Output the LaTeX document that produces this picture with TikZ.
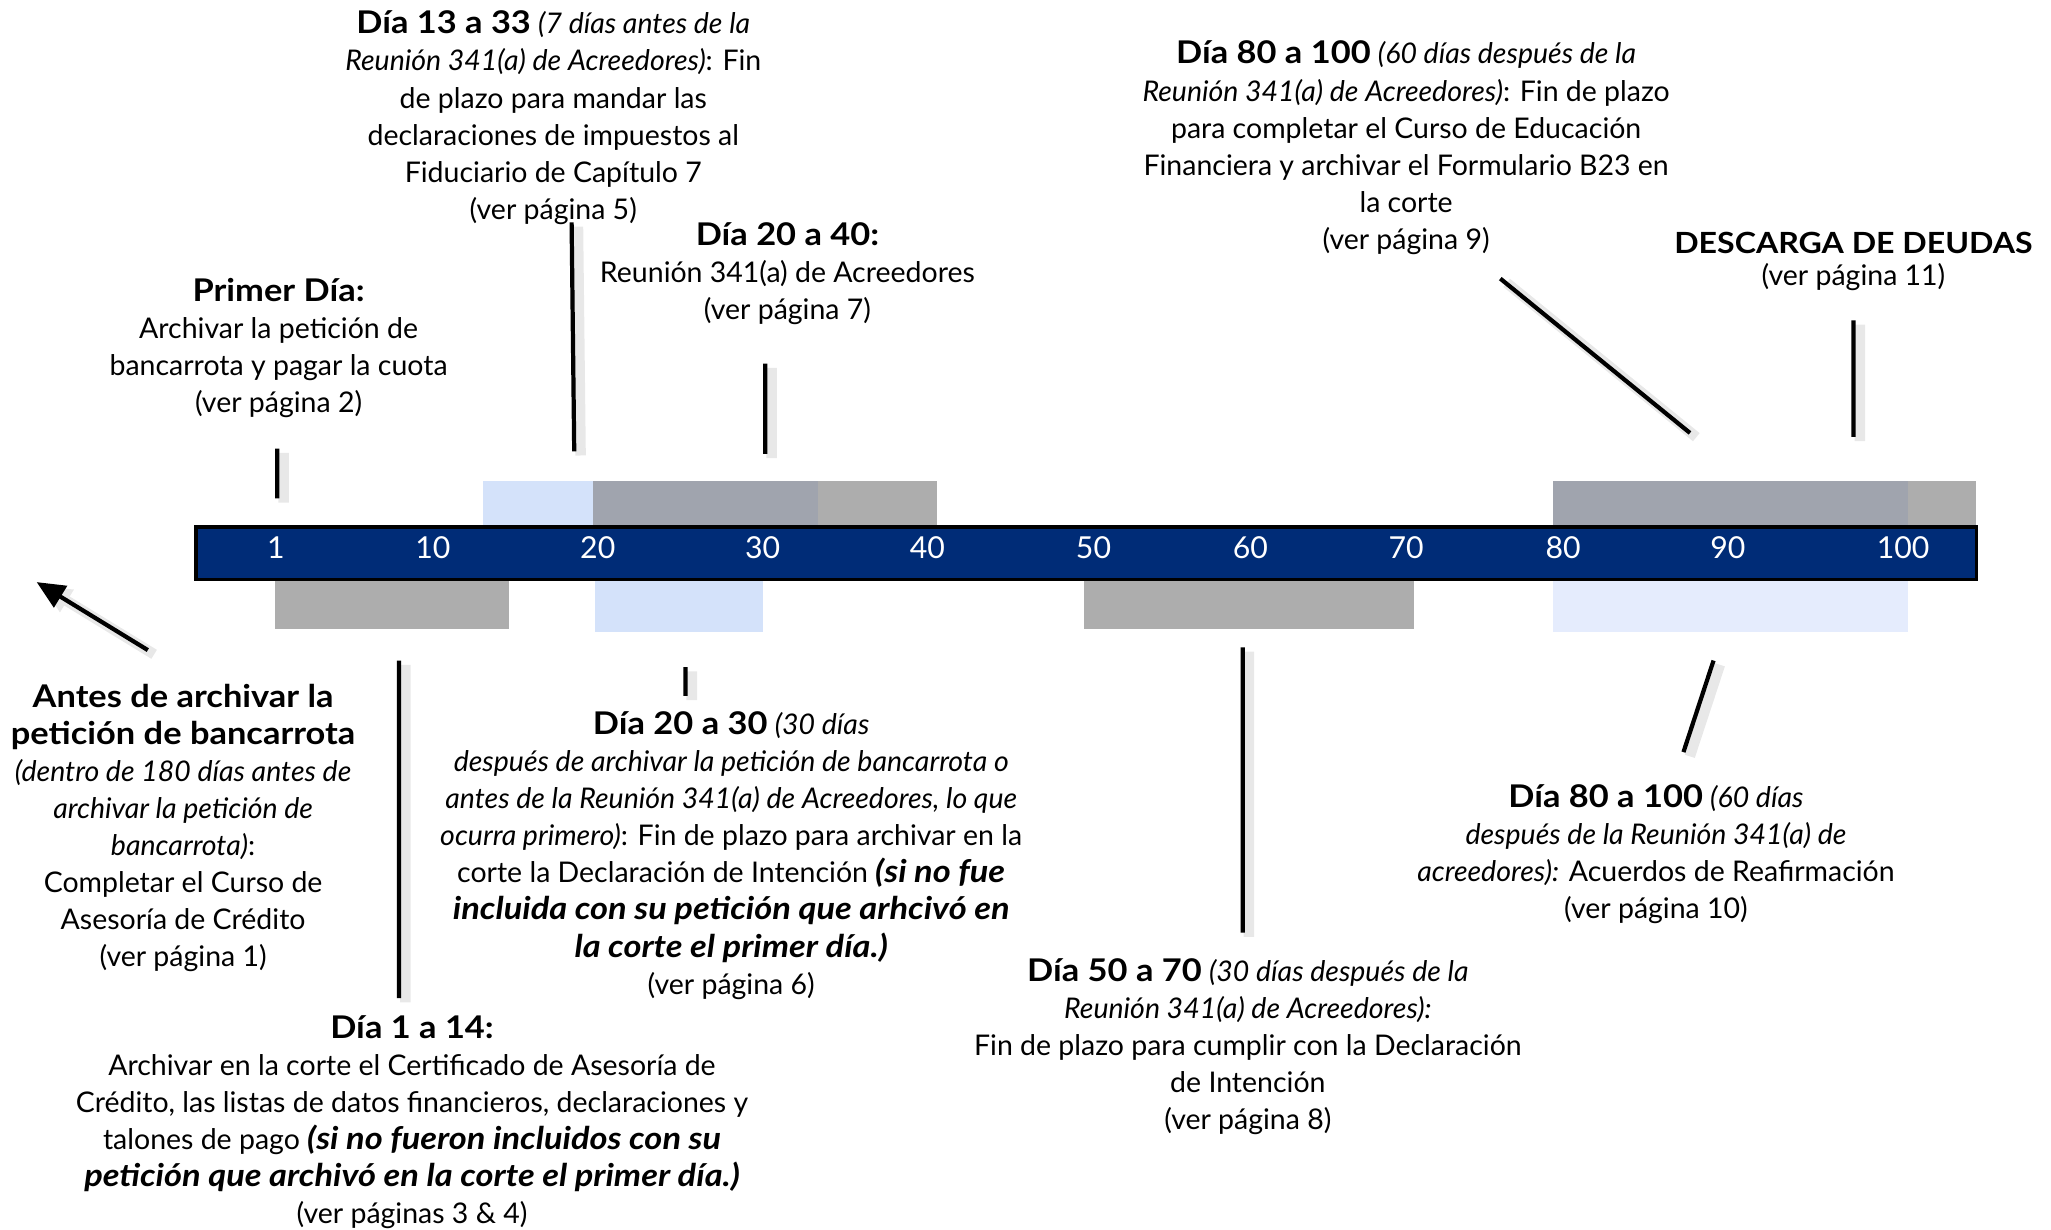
\documentclass[tikz,border=0pt]{standalone}
\usepackage{fontspec}
\setmainfont{Lato}
\usetikzlibrary{arrows.meta}

\definecolor{barblue}{RGB}{0,44,119}
\definecolor{paleblue}{RGB}{212,226,250}
\definecolor{faintblue}{RGB}{229,236,253}
\definecolor{slategray}{RGB}{160,164,174}
\definecolor{midgray}{RGB}{173,173,173}

\newcommand{\boldlbl}[1]{{\fontsize{8.9}{10.55}\selectfont\bfseries\addfontfeature{FakeStretch=1.1}#1}}

\begin{document}
\begin{tikzpicture} [x=0.01308cm, y=-0.01308cm,
        every node/.style={font=\fontsize{8.1}{10.55}\selectfont, align=center, inner sep=0pt},
        daynum/.style={text=white, font=\fontsize{8.6}{10}\selectfont},
        pointer/.style={line width=1.2pt, line cap=butt,
          preaction={draw=black!9, line width=3pt, transform canvas={shift={(1.8pt,-1.2pt)}}}}]
        \useasboundingbox (0,0) rectangle (1568,940);
        %bands above the bar
        \fill[paleblue] (369,368) rectangle (453,403);
        \fill[slategray] (453,368) rectangle (625,403);
        \fill[midgray] (625,368) rectangle (716,403);
        \fill[slategray] (1187,368) rectangle (1459,403);
        \fill[midgray] (1459,368) rectangle (1511,403);
        %bands below the bar
        \fill[midgray] (210,443) rectangle (389,481);
        \fill[paleblue] (455,443) rectangle (583,483);
        \fill[midgray] (829,443) rectangle (1081,481);
        \fill[faintblue] (1187,443) rectangle (1459,483);
        %the bar
        \draw[fill=barblue, line width=1pt] (150,403) rectangle (1511,443);
        \foreach \x/\d in {211/1, 331/10, 457/20, 583/30, 709/40, 836/50,
                           956/60, 1075/70, 1195/80, 1321/90, 1455/100}
          \node[daynum] (n\d) at (\x,419) {\d};
        %texts
        \node (dia13) at (423,90) {\boldlbl{Día 13 a 33} \textit{(7 días antes de la}\\
              \textit{Reunión 341(a) de Acreedores)}: Fin\\ de plazo para mandar las\\
              declaraciones de impuestos al\\ Fiduciario de Capítulo 7\\ (ver página 5)};
        \node (dia20a40) at (602,209) {\boldlbl{Día 20 a 40:}\\ Reunión 341(a) de Acreedores\\
              (ver página 7)};
        \node (primer) at (213,266) {\boldlbl{Primer Día:}\\ Archivar la petición de\\
              bancarrota y pagar la cuota\\ (ver página 2)};
        \node (dia80top) at (1075,113) {\boldlbl{Día 80 a 100} \textit{(60 días después de la}\\
              \textit{Reunión 341(a) de Acreedores)}: Fin de plazo\\
              para completar el Curso de Educación\\
              Financiera y archivar el Formulario B23 en\\ la corte\\ (ver página 9)};
        \node (descarga) at (1417,200) {{\fontsize{8.3}{10.55}\selectfont\bfseries
              \addfontfeature{FakeStretch=1.1}DESCARGA DE DEUDAS}\\[-0.5mm] (ver página 11)};
        \node (antes) at (140,633) {\boldlbl{Antes de archivar la}\\ \boldlbl{petición de bancarrota}\\
              \textit{(dentro de 180 días antes de}\\ \textit{archivar la petición de}\\
              \textit{bancarrota)}:\\ Completar el Curso de\\ Asesoría de Crédito\\ (ver página 1)};
        \node (dia1) at (315,858) {\boldlbl{Día 1 a 14:}\\
              Archivar en la corte el Certificado de Asesoría de\\
              Crédito, las listas de datos financieros, declaraciones y\\
              talones de pago \boldlbl{\itshape (si no fueron incluidos con su}\\
              \boldlbl{\itshape petición que archivó en la corte el primer día.)}\\
              (ver páginas 3 \& 4)};
        \node (dia20a30) at (559,654) {\boldlbl{Día 20 a 30} \textit{(30 días}\\
              \textit{después de archivar la petición de bancarrota o}\\
              \textit{antes de la Reunión 341(a) de Acreedores, lo que}\\
              \textit{ocurra primero)}: Fin de plazo para archivar en la\\
              corte la Declaración de Intención \boldlbl{\itshape (si no fue}\\
              \boldlbl{\itshape incluida con su petición que arhcivó en}\\
              \boldlbl{\itshape la corte el primer día.)}\\ (ver página 6)};
        \node (dia50) at (954,800) {\boldlbl{Día 50 a 70} \textit{(30 días después de la}\\
              \textit{Reunión 341(a) de Acreedores):}\\
              Fin de plazo para cumplir con la Declaración\\ de Intención\\ (ver página 8)};
        \node (dia80bot) at (1266,653) {\boldlbl{Día 80 a 100} \textit{(60 días}\\
              \textit{después de la Reunión 341(a) de}\\
              \textit{acreedores):} Acuerdos de Reafirmación\\ (ver página 10)};
        %pointer ends
        \coordinate (p1a) at (212,343);   \coordinate (p1b) at (212,381);
        \coordinate (p13a) at (437,170);  \coordinate (p13b) at (439,345);
        \coordinate (p20a) at (585,278);  \coordinate (p20b) at (585,347);
        \coordinate (p80a) at (1147,213); \coordinate (p80b) at (1292,331);
        \coordinate (pda) at (1417,245);  \coordinate (pdb) at (1417,334);
        \coordinate (pan) at (113,497);   \coordinate (pat) at (28,445);
        \coordinate (p14a) at (305,505);  \coordinate (p14b) at (305,763);
        \coordinate (p30a) at (524,510);  \coordinate (p30b) at (524,532);
        \coordinate (p50a) at (950,495);  \coordinate (p50b) at (950,713);
        \coordinate (p8a) at (1310,505);  \coordinate (p8b) at (1287,575);
        %pointers
        \draw[pointer] (p1a) -- (p1b)
              (p13a) -- (p13b)
              (p20a) -- (p20b)
              (p80a) -- (p80b)
              (pda) -- (pdb)
              (p14a) -- (p14b)
              (p30a) -- (p30b)
              (p50a) -- (p50b)
              (p8a) -- (p8b);
        \draw[pointer, -{Triangle[length=8pt, width=7pt]}] (pan) -- (pat);
\end{tikzpicture}
\end{document}
